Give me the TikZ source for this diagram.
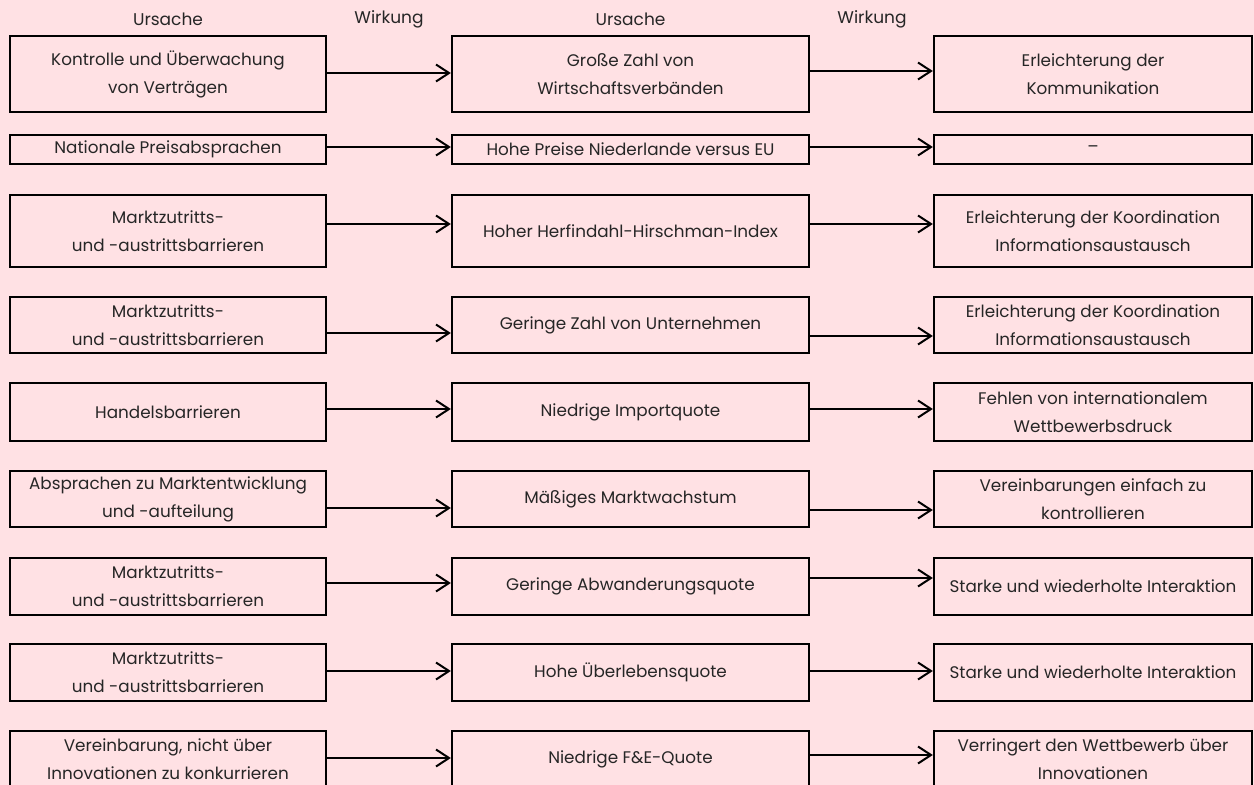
\documentclass[tikz,border=0pt]{standalone}
\usepackage{fontspec}
\setmainfont{Poppins}
\usetikzlibrary{arrows.meta}
\definecolor{bg}{HTML}{FFE1E4}
\definecolor{txt}{HTML}{262626}
\begin{document}
\begin{tikzpicture}[x=1pt,y=-1pt,
  box/.style={draw=black, line width=2.3pt, fill=bg, text=txt, align=center, inner sep=0pt,
    font=\fontsize{16.8}{28}\selectfont},
  cA/.style={minimum width=316pt},
  cB/.style={minimum width=357pt},
  cC/.style={minimum width=318pt},
  arr/.style={line width=2pt, -{Straight Barb[length=13pt,width=17pt,line width=2pt]}},
  hdr/.style={text=txt, inner sep=0pt, font=\fontsize{17}{20}\selectfont}]
\fill[bg] (0,0) rectangle (1254,785);
\useasboundingbox (0,0) rectangle (1254,785);

% headers
\node[hdr] (h1) at (168,19) {Ursache};
\node[hdr] (h2) at (389,19) {Wirkung};
\node[hdr] (h3) at (630.5,19) {Ursache};
\node[hdr] (h4) at (872,19) {Wirkung};

% row 1
\node[box,cA,minimum height=76pt] (a1) at (168,74) {Kontrolle und Überwachung\\von Verträgen};
\node[box,cB,minimum height=76pt] (b1) at (630.5,74) {Große Zahl von\\Wirtschaftsverbänden};
\node[box,cC,minimum height=76pt] (c1) at (1093,74) {Erleichterung der\\Kommunikation};
% row 2
\node[box,cA,minimum height=29pt] (a2) at (168,149.5) {Nationale Preisabsprachen};
\node[box,cB,minimum height=29pt] (b2) at (630.5,149.5) {Hohe Preise Niederlande versus EU};
\node[box,cC,minimum height=29pt] (c2) at (1093,149.5) {–};
% row 3
\node[box,cA,minimum height=72pt] (a3) at (168,231) {Marktzutritts-\\und -austrittsbarrieren};
\node[box,cB,minimum height=72pt] (b3) at (630.5,231) {Hoher Herfindahl-Hirschman-Index};
\node[box,cC,minimum height=72pt] (c3) at (1093,231) {Erleichterung der Koordination\\Informationsaustausch};
% row 4
\node[box,cA,minimum height=56pt] (a4) at (168,325) {Marktzutritts-\\und -austrittsbarrieren};
\node[box,cB,minimum height=56pt] (b4) at (630.5,325) {Geringe Zahl von Unternehmen};
\node[box,cC,minimum height=56pt] (c4) at (1093,325) {Erleichterung der Koordination\\Informationsaustausch};
% row 5
\node[box,cA,minimum height=58pt] (a5) at (168,412) {Handelsbarrieren};
\node[box,cB,minimum height=58pt] (b5) at (630.5,412) {Niedrige Importquote};
\node[box,cC,minimum height=58pt] (c5) at (1093,412) {Fehlen von internationalem\\Wettbewerbsdruck};
% row 6
\node[box,cA,minimum height=56pt] (a6) at (168,499) {Absprachen zu Marktentwicklung\\und -aufteilung};
\node[box,cB,minimum height=56pt] (b6) at (630.5,499) {Mäßiges Marktwachstum};
\node[box,cC,minimum height=56pt] (c6) at (1093,499) {Vereinbarungen einfach zu\\kontrollieren};
% row 7
\node[box,cA,minimum height=57pt] (a7) at (168,586.5) {Marktzutritts-\\und -austrittsbarrieren};
\node[box,cB,minimum height=57pt] (b7) at (630.5,586.5) {Geringe Abwanderungsquote};
\node[box,cC,minimum height=57pt] (c7) at (1093,586.5) {Starke und wiederholte Interaktion};
% row 8
\node[box,cA,minimum height=57pt] (a8) at (168,672.5) {Marktzutritts-\\und -austrittsbarrieren};
\node[box,cB,minimum height=57pt] (b8) at (630.5,672.5) {Hohe Überlebensquote};
\node[box,cC,minimum height=57pt] (c8) at (1093,672.5) {Starke und wiederholte Interaktion};
% row 9
\node[box,cA,minimum height=56pt] (a9) at (168,759) {Vereinbarung, nicht über\\Innovationen zu konkurrieren};
\node[box,cB,minimum height=56pt] (b9) at (630.5,759) {Niedrige F\&E-Quote};
\node[box,cC,minimum height=56pt] (c9) at (1093,759) {Verringert den Wettbewerb über\\Innovationen};

% arrows
\foreach \r/\ya/\yb in {1/73/71, 2/147/147, 3/224/224, 4/333/336, 5/409/409, 6/508/510, 7/583/578, 8/671/671, 9/758/755}{
  \draw[arr] (a\r.east |- 0,\ya) -- (b\r.west |- 0,\ya);
  \draw[arr] (b\r.east |- 0,\yb) -- (c\r.west |- 0,\yb);
}
\end{tikzpicture}
\end{document}
